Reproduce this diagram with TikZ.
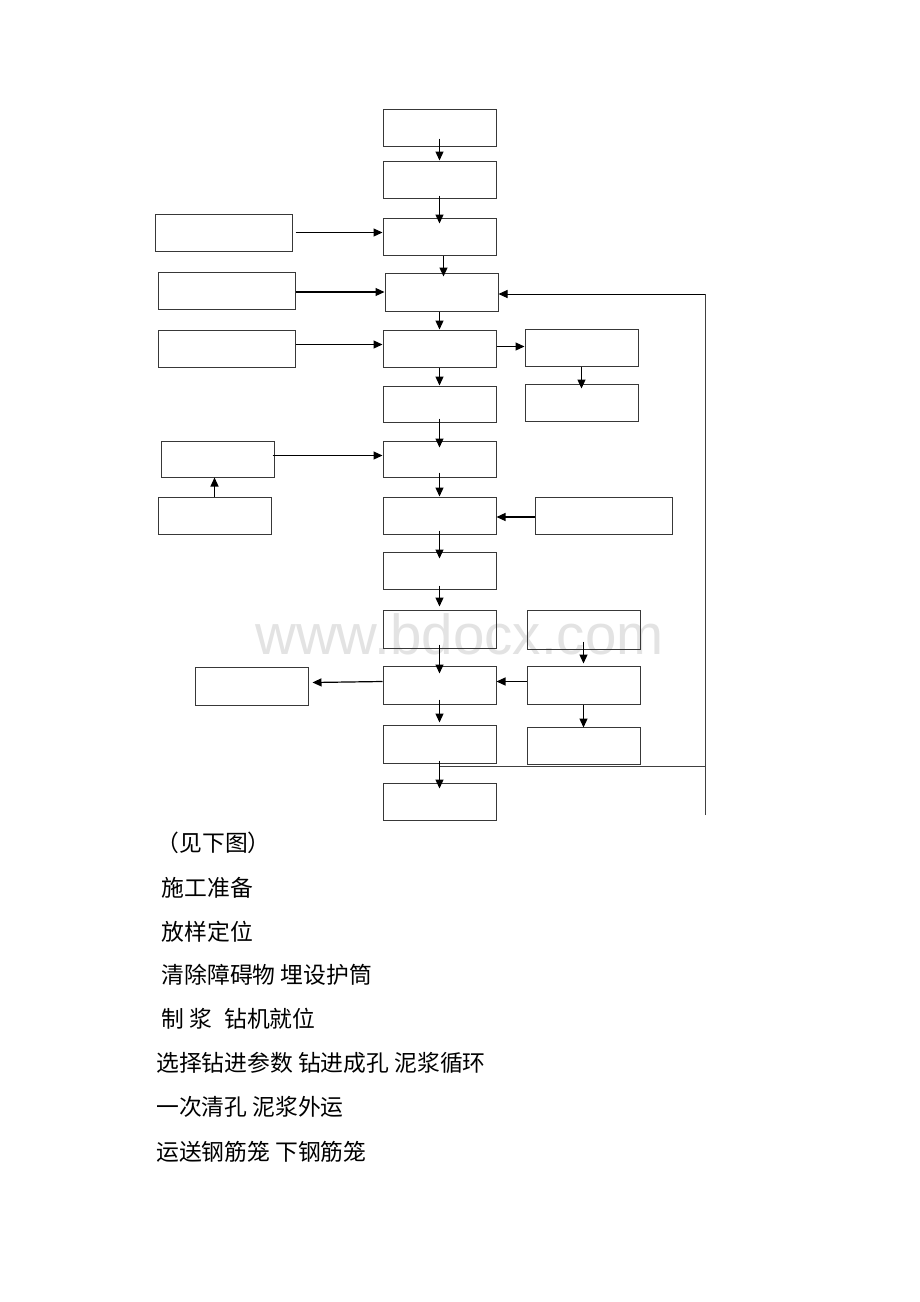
\documentclass[tikz,border=0pt]{standalone}
\usepackage{fontspec}
\newfontfamily\cjk{Noto Sans CJK SC}
\newfontfamily\wmfont{Liberation Sans}
\usetikzlibrary{arrows.meta}
\begin{document}
\begin{tikzpicture}[x=1pt,y=-1pt,
  box/.style={draw=black!78,line width=1pt,inner sep=0pt,minimum height=37pt},
  boxa/.style={box,minimum width=113pt},
  boxb/.style={box,minimum width=137pt},
  arr/.style={draw=black,line width=1.2pt,-{Triangle[length=9pt,width=8pt]}},
  fb/.style={draw=black!75,line width=1pt},
  txt/.style={anchor=west,inner sep=0pt,font=\cjk\fontsize{22.8}{26}\selectfont}]
\useasboundingbox (0,0) rectangle (920,1302);
\fill[white] (0,0) rectangle (920,1302);
% watermark
\node[anchor=base,inner sep=0pt,text=black!11,font=\wmfont\fontsize{56.5}{60}\selectfont] (wm) at (459.5,654) {www.bdocx.com};
% main column
\node[boxa] (a1) at (439.5,127.5) {};
\node[boxa] (a2) at (439.5,179.5) {};
\node[boxa] (a3) at (439.5,236.5) {};
\node[boxa,minimum height=38pt] (a4) at (441.5,292) {};
\node[boxa] (a5) at (439.5,348.5) {};
\node[boxa,minimum height=36pt] (a6) at (439.5,404) {};
\node[boxa,minimum height=36pt] (a7) at (439.5,459) {};
\node[boxa] (a8) at (439.5,515.5) {};
\node[boxa] (a9) at (439.5,570.5) {};
\node[boxa,minimum height=38pt] (a10) at (439.5,629) {};
\node[boxa,minimum height=38pt] (a11) at (439.5,685) {};
\node[boxa,minimum height=38pt] (a12) at (439.5,744) {};
\node[boxa] (a13) at (439.5,801.5) {};
% left column
\node[boxb] (l1) at (223.5,232.5) {};
\node[boxb] (l2) at (226.5,290.5) {};
\node[boxb] (l3) at (226.5,348.5) {};
\node[boxa,minimum height=36pt] (l4) at (217.5,459) {};
\node[boxa] (l5) at (214.5,515.5) {};
\node[boxa,minimum width=112.5pt,minimum height=38pt] (l6) at (251.75,686) {};
% right column
\node[boxa] (r1) at (581.5,347.5) {};
\node[boxa] (r2) at (581.5,402.5) {};
\node[boxb] (r3) at (603.5,515.5) {};
\node[boxa,minimum height=39pt] (r4) at (583.5,629.5) {};
\node[boxa,minimum height=38pt] (r5) at (583.5,685) {};
\node[boxa] (r6) at (583.5,745.5) {};
% feedback loop coordinates
\coordinate (fbtop) at (705,294);
\coordinate (fbjoin) at (705,766);
\coordinate (fbbot) at (705,815);
% main column arrows
\draw[arr] ([yshift=8pt]a1.south) -- (a2.north);
\draw[arr] ([yshift=3pt]a2.south) -- ([yshift=-6pt]a3.north);
\draw[arr] ([xshift=4pt]a3.south) -- ([xshift=2pt,yshift=-4pt]a4.north);
\draw[arr] ([xshift=-2pt]a4.south) -- (a5.north);
\draw[arr] (a5.south) -- (a6.north);
\draw[arr] ([yshift=4pt]a6.south) -- ([yshift=-7pt]a7.north);
\draw[arr] ([yshift=5pt]a7.south) -- (a8.north);
\draw[arr] ([yshift=4pt]a8.south) -- ([yshift=-7pt]a9.north);
\draw[arr] ([yshift=4pt]a9.south) -- ([yshift=3pt]a10.north);
\draw[arr] ([yshift=4pt]a10.south) -- ([yshift=-8pt]a11.north);
\draw[arr] ([yshift=5pt]a11.south) -- ([yshift=2pt]a12.north);
\draw[arr] ([yshift=3pt]a12.south) -- ([yshift=-6pt]a13.north);
% side arrows
\draw[arr] ([xshift=3pt]l1.east) -- (l1.east -| a3.west);
\draw[arr] (l2.east |- a4.west) -- (a4.west);
\draw[arr] ([yshift=4pt]l3.east) -- ([yshift=4pt]a5.west);
\draw[arr] ([yshift=2pt]a5.east) -- ([yshift=2pt]a5.east -| r1.west);
\draw[arr] (r1.south) -- ([yshift=-5pt]r2.north);
\draw[arr] ([xshift=-2pt,yshift=3.5pt]l4.east) -- ([yshift=3.5pt]a7.west);
\draw[arr] (l5.north) -- (l5.north |- l4.south);
\draw[arr] ([yshift=-1.5pt]r3.west) -- ([yshift=-1.5pt]a8.east);
\draw[arr] ([yshift=8pt]r4.south) -- ([yshift=2pt]r5.north);
\draw[arr] (r5.south) -- ([yshift=-1pt]r6.north);
\draw[arr] ([yshift=3.5pt]r5.west) -- ([yshift=3.5pt]a11.east);
\draw[arr] ([yshift=3.5pt]a11.west) -- ([xshift=4pt,yshift=3.5pt]l6.east);
% feedback loop
\draw[fb] (fbbot) -- (fbtop);
\draw[fb] (a12.south |- fbjoin) -- (fbjoin);
\draw[arr,line width=1pt] (fbtop) -- (fbtop -| a4.east);
% text lines
\node[txt] (t1) at (156.5,843.3) {（见下图）};
\node[txt] (t2) at (161.5,888) {施工准备};
\node[txt] (t3) at (161.5,931.7) {放样定位};
\node[txt] (t4) at (161.5,975) {清除障碍物 埋设护筒};
\node[txt] (t5) at (161.5,1019) {制\kern5pt\relax 浆\kern12pt\relax 钻机就位};
\node[txt] (t6) at (156,1062.7) {选择钻进参数 钻进成孔 泥浆循环};
\node[txt] (t7) at (156,1106.7) {一次清孔 泥浆外运};
\node[txt] (t8) at (156,1151.7) {运送钢筋笼 下钢筋笼};
\end{tikzpicture}
\end{document}
